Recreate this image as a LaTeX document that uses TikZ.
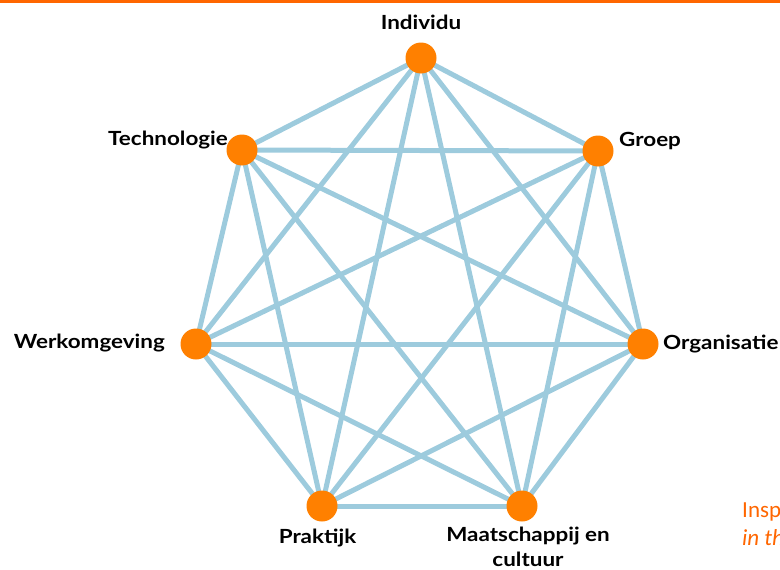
\documentclass[tikz,border=0pt]{standalone}
\usepackage{fontspec}
\setmainfont{Lato}
\newfontfamily\labfont[FakeStretch=1.15]{Lato}
\newfontfamily\notefont{Carlito}
\usetikzlibrary{backgrounds}
\definecolor{lineblue}{RGB}{157,203,221}
\definecolor{dotorange}{RGB}{255,128,0}
\definecolor{barorange}{RGB}{255,102,0}
\tikzset{
  dot/.style={circle,fill=dotorange,minimum size=31pt,inner sep=0pt},
  lab/.style={font=\labfont\fontsize{19.5}{24.5}\selectfont\bfseries,inner sep=0pt},
  link/.style={lineblue,line width=5pt}
}
\begin{document}
\begin{tikzpicture}[x=1pt,y=-1pt]
  \useasboundingbox (0,0) rectangle (780,570);
  \fill [barorange] (0,0) rectangle (780,2.5);
  % the seven dots
  \node [dot] (ind) at (421,58)  {};
  \node [dot] (grp) at (598,151) {};
  \node [dot] (org) at (643,344) {};
  \node [dot] (maa) at (522,506) {};
  \node [dot] (pra) at (322,506) {};
  \node [dot] (wer) at (196,344) {};
  \node [dot] (tec) at (242,150) {};
  % labels
  \node [lab,anchor=base] (indlab) at (421,30) {Individu};
  \node [lab,anchor=base west] (grplab) at (619,146) {Groep};
  \node [lab,anchor=base west] (orglab) at (663,349) {Organisatie};
  \node [lab,anchor=base east] (teclab) at (228,145) {Technologie};
  \node [lab,anchor=base east] (werlab) at (165,348) {Werkomgeving};
  \node [lab,anchor=base] (pralab) at (317.5,543) {Praktijk};
  \node [lab,anchor=base,align=center] (maalab) at (528,566) {Maatschappij en\\cultuur};
  \node [font=\notefont\fontsize{23}{28}\selectfont,text=barorange,anchor=base west,align=left,inner sep=0pt] (note) at (742,545) {Insp\\\itshape in th};
  % every dot linked to every other
  \begin{scope}[on background layer]
    \foreach \a/\b in {ind/grp,ind/org,ind/maa,ind/pra,ind/wer,ind/tec,
                       grp/org,grp/maa,grp/pra,grp/wer,grp/tec,
                       org/maa,org/pra,org/wer,org/tec,
                       maa/pra,maa/wer,maa/tec,
                       pra/wer,pra/tec,
                       wer/tec}
      \draw [link] (\a.center) -- (\b.center);
  \end{scope}
\end{tikzpicture}
\end{document}
